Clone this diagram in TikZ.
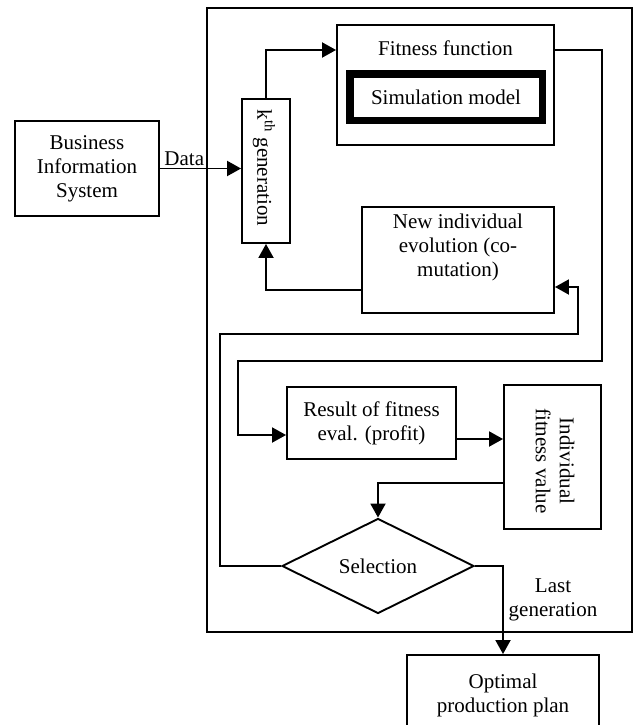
\documentclass[tikz,border=0pt]{standalone}
\usepackage{fontspec}
\setmainfont{Liberation Serif}
\usetikzlibrary{arrows.meta,shapes.geometric}

\begin{document}
\begin{tikzpicture}[x=1pt,y=-1pt,
	caja/.style={draw, line width=1.9pt, inner sep=0pt},				%%%%	Cajas
	texto/.style={align=center, inner sep=0pt,
		font=\fontsize{21}{24}\selectfont},							%%%%	Letra
	linea/.style={line width=1.9pt},
	flecha/.style={linea, -{Triangle[length=14pt,width=15pt]}}]		%%%%	Punta llena
\useasboundingbox (0,0) rectangle (637,725);

%%%%%%%%%%%%%%%%%%%%%%%%%%%%%%%%%%%%%%%%%%%%%%%% 	MARCO DEL ALGORITMO
\node[caja, minimum width=425pt, minimum height=624pt] (marco) at (419.5,320) {};

%%%%%%%%%%%%%%%%%%%%%%%%%%%%%%%%%%%%%%%%%%%%%%%% 	CAJAS
\node[caja, texto, minimum width=144pt, minimum height=95pt] (bis) at (87,168.5)
	{Business\\Information\\System};

\node[caja, minimum width=48pt, minimum height=144pt] (gen) at (266,171) {};
\node[texto, rotate=-90] (gentxt) at (264,168) {k$^{\mathrm{th}}$ generation};	%%%%	Texto girado

\node[caja, minimum width=217pt, minimum height=120pt] (fit) at (445.5,85) {};
\node[texto] (fittxt) at (445.5,48) {Fitness function};
\node[draw, line width=7.5pt, texto, minimum width=192.5pt, minimum height=46.5pt]
	(sim) at (446,97) {Simulation model};								%%%%	Borde grueso

\node[caja, minimum width=192pt, minimum height=106pt] (newind) at (458,260) {};
\node[texto] (newtxt) at (458,247) {New individual\\evolution (co-\\mutation)};

\node[caja, texto, minimum width=169pt, minimum height=72pt] (res) at (371.5,423)
	{Result of fitness\\eval. (profit)};

\node[caja, minimum width=97pt, minimum height=144pt] (ind) at (552.5,457) {};
\node[texto, rotate=-90] (indtxt) at (555,461) {Individual\\fitness value};

\node[caja, texto, diamond, shape aspect=2, minimum width=192pt, minimum height=95pt]
	(sel) at (378,566) {Selection};

\node[caja, texto, minimum width=192pt, minimum height=80pt] (opt) at (503,695)
	{Optimal\\production plan};

\node[texto] (last) at (553,600) {Last\\generation};

%%%%%%%%%%%%%%%%%%%%%%%%%%%%%%%%%%%%%%%%%%%%%%%% 	FLECHAS
\draw[flecha] (bis.east) -- (bis.east -| gen.west)
	node[texto, pos=0.3, above, inner sep=2pt] {Data};				%%%%	Se etiqueta la flecha
\draw[flecha] (gen.north) |- ([yshift=35pt]fit.west);
\draw[flecha] ([yshift=35pt]fit.east) -| (602,361) -| (238,435) -- ([yshift=-12pt]res.west);
\draw[flecha] ([yshift=-30pt]newind.west) -| (gen.south);
\draw[flecha] (sel.west) -| (220,334) -- (578,334) |- ([yshift=-27pt]newind.east);
\draw[flecha] ([yshift=-16pt]res.east) -- ([yshift=-16pt]res.east -| ind.west);
\draw[flecha] ([yshift=-26pt]ind.west) -| (sel.north);
\draw[flecha] (sel.east) -| (opt.north);

\end{tikzpicture}
\end{document}
